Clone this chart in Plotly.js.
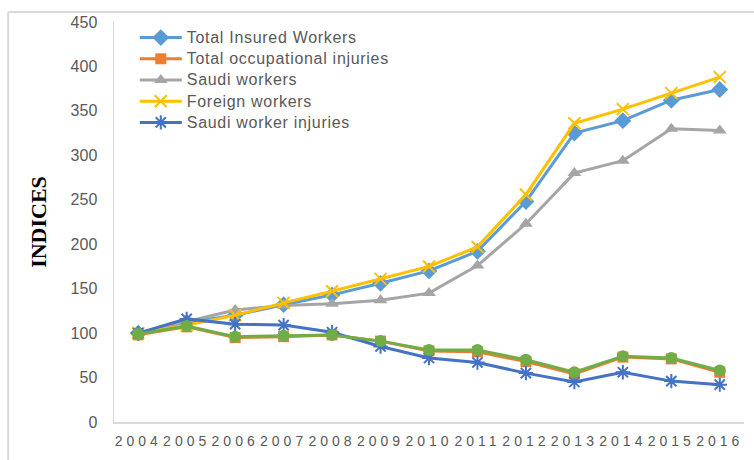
<!DOCTYPE html>
<html>
<head>
<meta charset="utf-8">
<script src="https://cdn.plot.ly/plotly-3.0.1.min.js"></script>
<style>
html, body { margin: 0; padding: 0; background: #fff; }
#chart { width: 754px; height: 460px; }
.xtick text { letter-spacing: 4px; }
.legend .scrollbox { clip-path: none !important; }
.legend .legendtext { font-size: 16px !important; letter-spacing: 0.7px; }
</style>
</head>
<body>
<div id="chart"></div>
<script>
const years = ["2004","2005","2006","2007","2008","2009","2010","2011","2012","2013","2014","2015","2016"];
const totalInsuredWorkers = [100, 112, 120, 132, 143, 156, 170, 192, 248, 325, 339, 362, 374];
const totalOccupationalInjuries = [98, 107, 95, 96, 98, 91, 80, 79, 68, 54, 73, 71, 56];
const saudiWorkers = [100, 113, 126, 131, 133, 137, 145, 176, 223, 280, 294, 330, 328];
const foreignWorkers = [100, 109, 120, 134, 147, 161, 175, 197, 256, 336, 352, 370, 388];
const saudiWorkerInjuries = [100, 116, 110, 109, 101, 85, 72, 67, 55, 45, 56, 46, 42];
const foreignWorkerInjuries = [99, 108, 96, 97, 98, 91, 81, 81, 70, 56, 74, 72, 58];

const names = ["Total Insured Workers", "Total occupational injuries", "Saudi workers", "Foreign workers", "Saudi worker injuries"];

const traces = [
  { x: years, y: totalInsuredWorkers, name: names[0], type: 'scatter', mode: 'lines+markers',
    line: { color: '#5B9BD5', width: 3 }, marker: { symbol: 'diamond', size: 13, color: '#5B9BD5' } },
  { x: years, y: totalOccupationalInjuries, name: names[1], type: 'scatter', mode: 'lines+markers',
    line: { color: '#ED7D31', width: 3 }, marker: { symbol: 'square', size: 11, color: '#ED7D31' } },
  { x: years, y: saudiWorkers, name: names[2], type: 'scatter', mode: 'lines+markers',
    line: { color: '#A5A5A5', width: 3 }, marker: { symbol: 'triangle-up', size: 12, color: '#A5A5A5' } },
  { x: years, y: foreignWorkers, name: names[3], type: 'scatter', mode: 'lines+markers',
    line: { color: '#FFC000', width: 3 }, marker: { symbol: 'x-thin-open', size: 12, color: '#FFC000', line: { color: '#FFC000', width: 2 } } },
  { x: years, y: saudiWorkerInjuries, name: names[4], type: 'scatter', mode: 'lines+markers',
    line: { color: '#4472C4', width: 3 }, marker: { symbol: 'asterisk-open', size: 12, color: '#4472C4', line: { color: '#4472C4', width: 2 } } },
  { x: years, y: foreignWorkerInjuries, name: 'Foreign worker injuries', showlegend: false, type: 'scatter', mode: 'lines+markers',
    line: { color: '#70AD47', width: 3 }, marker: { symbol: 'circle', size: 12, color: '#70AD47' } }
];

const layout = {
  width: 754, height: 460,
  margin: { l: 114, r: 10, t: 22, b: 38 },
  paper_bgcolor: '#ffffff', plot_bgcolor: '#ffffff',
  font: { family: 'Liberation Sans, Arial, sans-serif', color: '#595959' },
  xaxis: {
    type: 'category', range: [-0.5, 12.5],
    showgrid: false, zeroline: false, showline: true, linecolor: '#d9d9d9', linewidth: 1.5,
    ticks: '', tickfont: { size: 14, color: '#595959' }, ticklabelstandoff: 6
  },
  yaxis: {
    range: [0, 450], dtick: 50, tick0: 0,
    showgrid: false, zeroline: false, showline: true, linecolor: '#d9d9d9', linewidth: 1.5,
    ticks: '', tickfont: { size: 16, color: '#595959' }, ticklabelstandoff: 12,
    title: { text: 'INDICES', font: { family: 'Liberation Serif, Times New Roman, serif', size: 22, color: '#000000', weight: 'bold' }, standoff: 18 }
  },
  legend: {
    x: 0.033, y: 1.0, xanchor: 'left', yanchor: 'top',
    bgcolor: 'rgba(255,255,255,0)', font: { size: 14, color: '#595959' },
    itemwidth: 42, tracegroupgap: 0
  },
  shapes: [
    { type: 'line', xref: 'paper', yref: 'paper', x0: -0.168, x1: 1.02, y0: 1.025, y1: 1.025, line: { color: '#d9d9d9', width: 2 } },
    { type: 'line', xref: 'paper', yref: 'paper', x0: -0.168, x1: -0.168, y0: 1.025, y1: -0.1, line: { color: '#d9d9d9', width: 2 } }
  ],
  showlegend: true
};

Plotly.newPlot('chart', traces, layout, { displayModeBar: false, staticPlot: true });
</script>
</body>
</html>
